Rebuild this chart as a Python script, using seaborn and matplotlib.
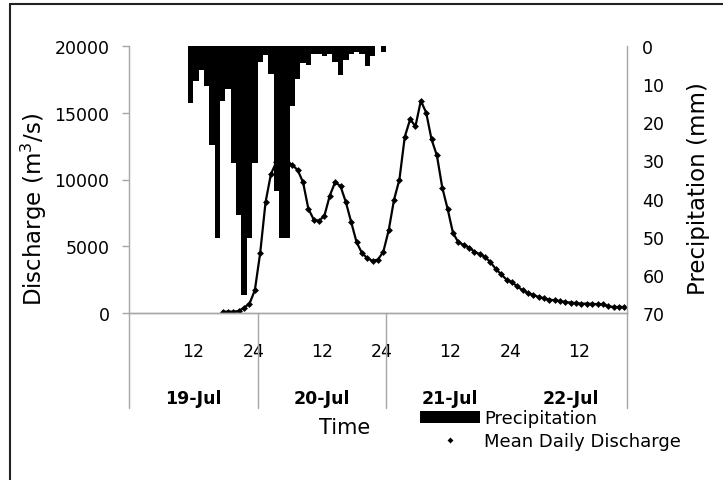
import numpy as np
import pandas as pd
import seaborn as sns
import matplotlib.pyplot as plt
from matplotlib.lines import Line2D
from matplotlib.patches import Patch

# Hourly categories: index 0 is the first hour of 19-Jul, a new day every 24 categories
n_hours = 93
hours_per_day = 24
dates = ["19-Jul", "20-Jul", "21-Jul", "22-Jul"]
hour_tick_labels = ["12", "24"]

# Mean daily discharge (m3/s), hourly from index 17
discharge_start = 17
discharge = [100, 100, 100, 150, 400, 700, 1700, 4500, 8300, 10400,
             11300, 11500, 11300, 11100, 10700, 9800, 7800, 7000, 6900, 7300,
             8800, 9800, 9500, 8300, 6800, 5300, 4500, 4100, 3900, 4000,
             4600, 6200, 8500, 10000, 13200, 14500, 14000, 15900, 15000, 13000,
             11800, 9400, 7800, 6000, 5300, 5100, 4900, 4600, 4400, 4200,
             3800, 3300, 2900, 2500, 2300, 2000, 1700, 1500, 1350, 1200,
             1100, 1000, 950, 900, 820, 780, 740, 700, 700, 680,
             660, 650, 500, 450, 450, 450]

# Hourly precipitation (mm), from index 11
precip_start = 11
precip_mm = [15.0, 9.3, 6.4, 10.6, 26.0, 50.4, 14.3, 11.2, 30.8, 44.3,
             65.2, 50.4, 30.8, 4.3, 2.3, 7.3, 38.0, 50.4, 50.4, 15.6,
             8.7, 4.5, 5.0, 2.1, 2.1, 2.6, 2.1, 4.2, 7.7, 3.6,
             2.1, 1.5, 2.1, 5.3, 2.6, 0.0, 1.5]

q_df = pd.DataFrame({"hour": np.arange(discharge_start, discharge_start + len(discharge)),
                     "discharge": discharge})
p_df = pd.DataFrame({"hour": np.arange(precip_start, precip_start + len(precip_mm)),
                     "precip": precip_mm})

sns.set_theme(style="white")
plt.rcParams["font.family"] = ["DejaVu Sans"]
plt.rcParams["text.color"] = "black"
plt.rcParams["axes.labelcolor"] = "black"

W, H = 723, 481
fig = plt.figure(figsize=(W / 100, H / 100), dpi=100)
fig.patch.set_facecolor("white")
ax = fig.add_axes([129 / W, 1 - 314 / H, 498 / W, 267 / H])

axis_grey = "#a6a6a6"

# Discharge line on the primary axis
sns.lineplot(data=q_df, x="hour", y="discharge", ax=ax, color="black",
             linewidth=1.6, marker="D", markersize=3.5, markeredgewidth=0,
             legend=False)
ax.set_ylim(0, 20000)
ax.set_xlim(-0.5, n_hours - 0.5)
ax.set_yticks(np.arange(0, 20001, 5000))
ax.tick_params(axis="y", which="major", left=True, length=5, width=1,
               color=axis_grey, pad=9, labelsize=12.5, labelcolor="black")

# Hanging precipitation bars on an inverted secondary axis
ax2 = ax.twinx()
sns.barplot(data=p_df, x="hour", y="precip", ax=ax2, native_scale=True,
            width=1, color="black", saturation=1, linewidth=0)
ax2.set_ylim(70, 0)
ax2.set_xlim(-0.5, n_hours - 0.5)
ax2.set_yticks(np.arange(0, 71, 10))
ax2.set_yticks([10, 40, 70], minor=True)
ax2.tick_params(axis="y", which="major", right=True, length=0, pad=11,
                labelsize=12.5, labelcolor="black")
ax2.tick_params(axis="y", which="minor", right=True, length=4, width=1,
                color=axis_grey)

for a in (ax, ax2):
    a.spines["top"].set_visible(False)
    for side in ("left", "right", "bottom"):
        a.spines[side].set_color(axis_grey)
        a.spines[side].set_linewidth(1)
ax2.spines["left"].set_visible(False)
ax.spines["right"].set_visible(False)

# Hour labels on the time axis
day_starts = [i * hours_per_day for i in range(len(dates))]
tick_pos, tick_lab = [], []
for d0 in day_starts:
    for lab in hour_tick_labels:
        pos = d0 + int(lab) - (0.5 if lab == "12" else 1.3)
        if pos < n_hours - 0.5:
            tick_pos.append(pos)
            tick_lab.append(lab)
ax2.set_xticks([])
ax.set_xticks(tick_pos)
ax.set_xticklabels(tick_lab)
ax.tick_params(axis="x", length=0, pad=21, labelsize=12.5, labelcolor="black")

# Day labels and day separators below the axis
for i, name in enumerate(dates):
    start = day_starts[i] - 0.5
    end = min(day_starts[i] + hours_per_day, n_hours) - 0.5
    ax.text((start + end) / 2, -0.318, name, transform=ax.get_xaxis_transform(),
            ha="center", va="center", fontsize=12.5, fontweight="bold")
for xb in [-0.5, day_starts[1] - 0.5, day_starts[2] - 0.5, n_hours - 0.5]:
    ax.axvline(xb, ymin=-0.356, ymax=0, color=axis_grey, lw=1, clip_on=False)

# Axis titles
ax.set_xlabel("Time", fontsize=15)
ax.xaxis.set_label_coords(0.432, -0.427)
ax.xaxis.label.set_va("center")
ax.set_ylabel("Discharge (m$^3$/s)", fontsize=16.5)
ax.yaxis.set_label_coords(-0.19, 0.39)
ax.yaxis.label.set_va("center")
ax2.set_ylabel("Precipitation (mm)", fontsize=16.5)
ax2.yaxis.set_label_coords(1.143, 0.47)
ax2.yaxis.label.set_va("center")

# Legend under the plot
handles = [Patch(facecolor="black", edgecolor="none", label="Precipitation"),
           Line2D([], [], color="black", marker="D", markersize=3,
                  markeredgewidth=0, linestyle="none", label="Mean Daily Discharge")]
fig.legend(handles=handles, loc="upper left",
           bbox_to_anchor=(420 / W, 1 - 410 / H), frameon=False, fontsize=13,
           handlelength=3.3, handleheight=0.66, handletextpad=0.25,
           labelspacing=0.3, borderpad=0, borderaxespad=0)

# Outer frame on the left and top edges
fig.add_artist(Line2D([10 / W, 10 / W], [0, 1 - 4.5 / H], transform=fig.transFigure,
                      color="#222222", lw=1.5))
fig.add_artist(Line2D([10 / W, 1], [1 - 4.5 / H, 1 - 4.5 / H], transform=fig.transFigure,
                      color="#222222", lw=1.5))

fig.savefig("out.png", dpi=100)
